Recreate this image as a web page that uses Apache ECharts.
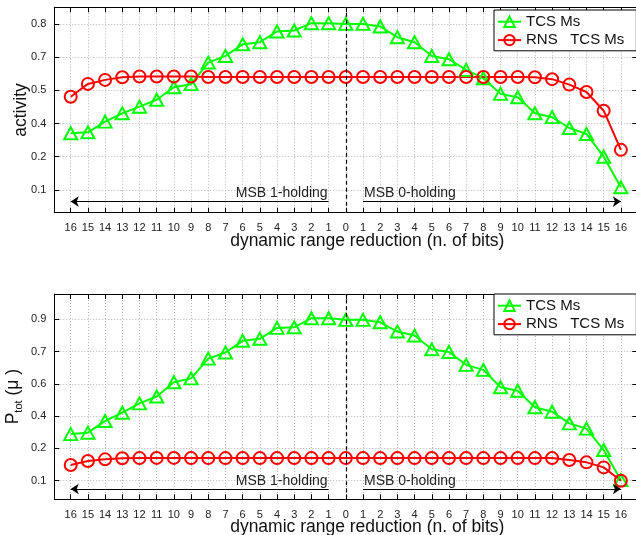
<!DOCTYPE html>
<html>
<head>
<meta charset="utf-8">
<script src="https://cdn.jsdelivr.net/npm/echarts@6/dist/echarts.min.js"></script>
<style>
  html, body { margin: 0; padding: 0; background: #fff; }
  #chart { width: 636px; height: 535px; }
</style>
</head>
<body>
<div id="chart"></div>
<script>
// Bit positions: MSB 1-holding side (16..1), centre 0, MSB 0-holding side (1..16)
const bitLabels = ['16','15','14','13','12','11','10','9','8','7','6','5','4','3','2','1',
                   '0',
                   '1','2','3','4','5','6','7','8','9','10','11','12','13','14','15','16'];

// Y tick positions and the labels printed at them
const activityTicks = [0.1, 0.24, 0.38, 0.52, 0.66, 0.8];
const activityTickLabels = ['0.1', '0.2', '0.4', '0.5', '0.7', '0.8'];
const powerTicks = [0.1, 0.26, 0.42, 0.58, 0.74, 0.9];
const powerTickLabels = ['0.1', '0.2', '0.4', '0.6', '0.7', '0.9'];

// Switching activity
const activityTcs = [0.339, 0.343, 0.388, 0.423, 0.451, 0.480, 0.533, 0.546, 0.637, 0.665, 0.714, 0.723, 0.768, 0.772, 0.803, 0.803,
                     0.800,
                     0.800, 0.789, 0.744, 0.723, 0.665, 0.651, 0.606, 0.571, 0.505, 0.491, 0.423, 0.407, 0.361, 0.336, 0.240, 0.111];
const activityRns = [0.493, 0.547, 0.564, 0.575, 0.578, 0.578, 0.578, 0.578, 0.576, 0.576, 0.576, 0.576, 0.576, 0.576, 0.576, 0.576,
                     0.576,
                     0.576, 0.576, 0.576, 0.576, 0.576, 0.576, 0.576, 0.576, 0.576, 0.576, 0.575, 0.567, 0.544, 0.513, 0.434, 0.269];

// Total power
const powerTcs = [0.331, 0.338, 0.396, 0.437, 0.483, 0.517, 0.588, 0.607, 0.705, 0.735, 0.793, 0.803, 0.857, 0.860, 0.905, 0.905,
                  0.897,
                  0.897, 0.885, 0.839, 0.819, 0.751, 0.738, 0.674, 0.649, 0.563, 0.546, 0.464, 0.442, 0.384, 0.358, 0.252, 0.103];
const powerRns = [0.178, 0.198, 0.206, 0.211, 0.212, 0.213, 0.213, 0.212, 0.212, 0.212, 0.212, 0.212, 0.212, 0.212, 0.212, 0.212,
                  0.212,
                  0.212, 0.212, 0.212, 0.212, 0.212, 0.212, 0.212, 0.212, 0.212, 0.212, 0.212, 0.212, 0.203, 0.191, 0.166, 0.100];

const seriesNames = ['TCS Ms', 'RNS   TCS Ms'];
const regionLabels = ['MSB 1-holding', 'MSB 0-holding'];

const GREEN = '#00ff00';
const RED = '#ff0000';
const FONT = 'Liberation Sans, Arial, Helvetica, sans-serif';
const GRID_COLOR = '#b4b4b4';

const X_MIN = -0.955, X_MAX = 32.955;
const xIdx = bitLabels.map((_, i) => i);
const centreIdx = bitLabels.indexOf('0');
const lastIdx = bitLabels.length - 1;

function pairs(values) { return values.map((v, i) => [i, v]); }
function pickLabel(ticks, labels, v) {
  const k = ticks.findIndex(t => Math.abs(t - v) < 1e-6);
  return k >= 0 ? labels[k] : '';
}

function xBottom(g) {
  return {
    type: 'value', gridIndex: g, position: 'bottom', min: X_MIN, max: X_MAX,
    axisLine: { show: true, onZero: false, lineStyle: { color: '#000', width: 1 } },
    axisTick: { show: true, inside: true, length: 5, customValues: xIdx, lineStyle: { color: '#000' } },
    axisLabel: { customValues: xIdx, formatter: v => bitLabels[Math.round(v)], fontSize: 11, color: '#222', margin: 10, fontFamily: FONT },
    splitLine: { show: true, lineStyle: { color: GRID_COLOR, type: [1, 2], width: 1 } },
    name: 'dynamic range reduction (n. of bits)', nameLocation: 'middle', nameGap: 19, nameMoveOverlap: false,
    nameTextStyle: { fontSize: 17.5, color: '#111', fontFamily: FONT, padding: [0, 0, 0, 43] }
  };
}
function xTop(g) {
  return {
    type: 'value', gridIndex: g, position: 'top', min: X_MIN, max: X_MAX,
    axisLine: { show: true, onZero: false, lineStyle: { color: '#000', width: 1 } },
    axisTick: { show: true, inside: true, length: 5, customValues: xIdx, lineStyle: { color: '#000' } },
    axisLabel: { show: false }, splitLine: { show: false }
  };
}
function yLeft(g, min, max, ticks, labels, name, gap, nameStyle) {
  return {
    type: 'value', gridIndex: g, position: 'left', min: min, max: max,
    axisLine: { show: true, onZero: false, lineStyle: { color: '#000', width: 1 } },
    axisTick: { show: true, inside: true, length: 5, customValues: ticks, lineStyle: { color: '#000' } },
    axisLabel: { customValues: ticks, formatter: v => pickLabel(ticks, labels, v), fontSize: 11, color: '#222', margin: 8, fontFamily: FONT },
    splitLine: { show: true, lineStyle: { color: GRID_COLOR, type: [1, 2], width: 1 } },
    name: name, nameLocation: 'middle', nameGap: gap, nameMoveOverlap: false, nameTextStyle: nameStyle
  };
}
function yRight(g, min, max, ticks) {
  return {
    type: 'value', gridIndex: g, position: 'right', min: min, max: max,
    axisLine: { show: true, onZero: false, lineStyle: { color: '#000', width: 1 } },
    axisTick: { show: true, inside: true, length: 5, customValues: ticks, lineStyle: { color: '#000' } },
    axisLabel: { show: false }, splitLine: { show: false }
  };
}

function dataSeries(name, g, values, color, symbol, size) {
  return {
    type: 'line', name: name, xAxisIndex: g * 2, yAxisIndex: g * 2, data: pairs(values),
    symbol: symbol, symbolSize: size, color: color,
    lineStyle: { color: color, width: 2 },
    itemStyle: { color: 'none', borderColor: color, borderWidth: 2 },
    z: 3
  };
}

const regionLabelStyle = { fontSize: 14, color: '#222', fontFamily: FONT, distance: 1 };

function annotations(g, arrowY) {
  return {
    type: 'line', xAxisIndex: g * 2, yAxisIndex: g * 2, data: [], silent: true,
    markLine: {
      silent: true, animation: false, symbol: ['none', 'none'], symbolSize: 8,
      data: [
        // dashed separator at 0 bits
        { xAxis: centreIdx, lineStyle: { color: '#000', type: [4, 3], width: 1.2 }, label: { show: false } },
        // MSB 1-holding arrow (points to the left)
        [{ coord: [0, arrowY], symbol: 'arrow',
           lineStyle: { color: '#000', type: 'solid', width: 1 },
           label: Object.assign({ show: true, position: 'insideEndTop', formatter: regionLabels[0] }, regionLabelStyle) },
         { coord: [centreIdx - 1, arrowY], symbol: 'none' }],
        // MSB 0-holding arrow (points to the right)
        [{ coord: [centreIdx + 1, arrowY], symbol: 'none',
           lineStyle: { color: '#000', type: 'solid', width: 1 },
           label: Object.assign({ show: true, position: 'insideStartTop', formatter: regionLabels[1] }, regionLabelStyle) },
         { coord: [lastIdx, arrowY], symbol: 'arrow' }]
      ]
    }
  };
}

function legendAt(top) {
  return {
    data: seriesNames, orient: 'vertical', left: 494, top: top,
    backgroundColor: '#fff', borderColor: '#000', borderWidth: 1,
    padding: [4, 12, 3, 3], itemGap: 3, itemWidth: 23, itemHeight: 13,
    textStyle: { fontSize: 15, color: '#111', fontFamily: FONT },
    selectedMode: false
  };
}

const chart = echarts.init(document.getElementById('chart'));
chart.setOption({
  animation: false,
  backgroundColor: '#fff',
  grid: [
    { left: 54.3, top: 7.3, width: 583, height: 205.4, outerBoundsMode: 'none' },
    { left: 54.3, top: 294, width: 583, height: 205.3, outerBoundsMode: 'none' }
  ],
  legend: [legendAt(10), legendAt(294)],
  xAxis: [xBottom(0), xTop(0), xBottom(1), xTop(1)],
  yAxis: [
    yLeft(0, 0.004, 0.870, activityTicks, activityTickLabels, 'activity', 24,
      { fontSize: 17.5, color: '#111', fontFamily: FONT }),
    yRight(0, 0.004, 0.870, activityTicks),
    yLeft(1, 0.008, 1.025, powerTicks, powerTickLabels, '{p|P}{s|tot}{p| (μ )}', 30,
      { fontSize: 17.5, color: '#111', fontFamily: FONT,
        rich: { p: { fontSize: 17.5, fontFamily: FONT, color: '#111', lineHeight: 22 },
                s: { fontSize: 11, fontFamily: FONT, color: '#111', verticalAlign: 'bottom', lineHeight: 12 } } }),
    yRight(1, 0.008, 1.025, powerTicks)
  ],
  series: [
    dataSeries(seriesNames[0], 0, activityTcs, GREEN, 'triangle', [13, 12]),
    dataSeries(seriesNames[1], 0, activityRns, RED, 'circle', 12),
    annotations(0, 0.051),
    dataSeries(seriesNames[0], 1, powerTcs, GREEN, 'triangle', [13, 12]),
    dataSeries(seriesNames[1], 1, powerRns, RED, 'circle', 12),
    annotations(1, 0.059)
  ]
});
</script>
</body>
</html>
